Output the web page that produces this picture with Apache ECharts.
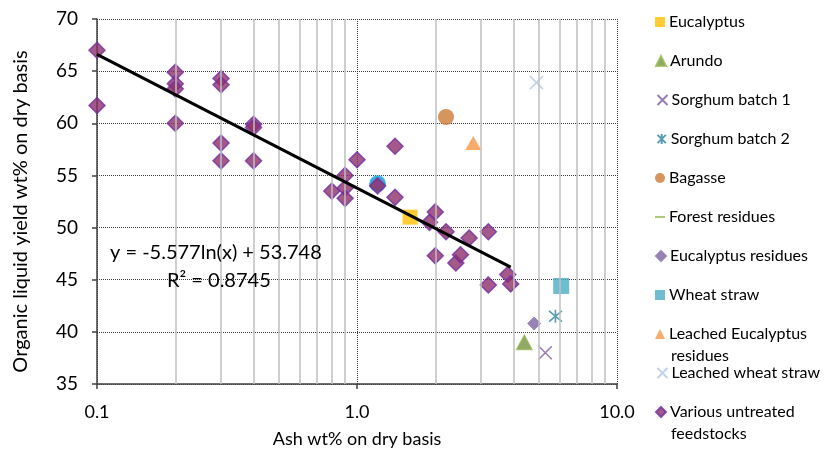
<!DOCTYPE html>
<html>
<head>
<meta charset="utf-8">
<script src="https://cdn.jsdelivr.net/npm/echarts@6/dist/echarts.min.js"></script>
<style>html,body{margin:0;padding:0;background:#fff}#c{width:830px;height:455px}</style>
</head>
<body>
<div id="c"></div>
<script>
// ---- data ----
const eucalyptus = [[1.6, 51.0]];
const arundo = [[4.4, 39.0]];
const sorghum1 = [[5.3, 38.0]];
const sorghum2 = [[5.8, 41.5]];
const bagasse = [[2.2, 60.6]];
const forestResidues = [[1.2, 54.2]];
const eucalyptusResidues = [[4.8, 40.8]];
const wheatStraw = [[6.1, 44.4]];
const leachedEucalyptus = [[2.8, 58.1]];
const leachedWheat = [[4.9, 63.9]];
const various = [
  [0.1, 67.0], [0.1, 61.7],
  [0.2, 64.9], [0.2, 63.8], [0.2, 63.3], [0.2, 60.0],
  [0.3, 64.3], [0.3, 63.7], [0.3, 58.1], [0.3, 56.4],
  [0.4, 59.9], [0.4, 59.6], [0.4, 56.4],
  [0.8, 53.5], [0.9, 55.0], [0.9, 53.8], [0.9, 52.8],
  [1.0, 56.5], [1.2, 54.0], [1.4, 57.8], [1.4, 52.9],
  [1.9, 50.5], [2.0, 51.5], [2.0, 47.3], [2.2, 49.6],
  [2.4, 46.6], [2.5, 47.4], [2.7, 49.0], [3.2, 49.6],
  [3.2, 44.5], [3.8, 45.5], [3.9, 44.6]
];
const trendline = [[0.1, 66.6], [3.9, 46.2]];
const minorGridX = [0.2, 0.3, 0.4, 0.5, 0.6, 0.7, 0.8, 0.9, 2, 3, 4, 5, 6, 7, 8, 9];
const legendNames = ['Eucalyptus', 'Arundo', 'Sorghum batch 1', 'Sorghum batch 2', 'Bagasse',
  'Forest residues', 'Eucalyptus residues', 'Wheat straw', 'Leached Eucalyptus residues',
  'Leached wheat straw', 'Various untreated feedstocks'];
// legend labels wrapped onto two lines as in the original
const legendFirstLine = {
  'Leached Eucalyptus residues': 'Leached Eucalyptus',
  'Various untreated feedstocks': 'Various untreated'
};
const legendSecondLine = {
  'Leached Eucalyptus residues': 'residues',
  'Various untreated feedstocks': 'feedstocks'
};
const equationText = 'y = -5.577ln(x) + 53.748';
const r2Text = 'R² = 0.8745';

const FONT = 'Lato, Carlito, "Liberation Sans", sans-serif';
const XPATH = 'path://M0,0L10,10M10,0L0,10';
const ASTPATH = 'path://M0,0L10,10M10,0L0,10M5,-1L5,11';

const chart = echarts.init(document.getElementById('c'), null, {renderer: 'canvas'});

const series = [
  {
    name: '_grid', type: 'line', data: [], silent: true,
    markLine: {
      symbol: 'none', silent: true, label: {show: false},
      lineStyle: {color: '#BFBFBF', width: 1.5, type: 'solid'},
      data: minorGridX.map(v => ({xAxis: v}))
    }
  },
  {name: 'Forest residues', type: 'scatter', symbol: 'circle', symbolSize: 15,
   data: forestResidues.map(p => ({value: p, itemStyle: {color: '#3E7CC0', borderColor: '#17B3E8', borderWidth: 2}})),
   itemStyle: {color: '#9BBB59'}},
  {name: 'Eucalyptus', type: 'scatter', data: eucalyptus, symbol: 'rect', symbolSize: 15,
   itemStyle: {color: '#FFC000'}},
  {name: 'Arundo', type: 'scatter', data: arundo, symbol: 'triangle', symbolSize: [16, 15],
   itemStyle: {color: '#77933C', borderColor: '#9BBB59', borderWidth: 1}},
  {name: 'Sorghum batch 1', type: 'scatter', data: sorghum1, symbol: XPATH, symbolSize: 13,
   itemStyle: {color: 'none', borderColor: '#7E5C9C', borderWidth: 1.6}},
  {name: 'Sorghum batch 2', type: 'scatter', data: sorghum2, symbol: ASTPATH, symbolSize: 13,
   itemStyle: {color: 'none', borderColor: '#31859C', borderWidth: 1.6}},
  {name: 'Bagasse', type: 'scatter', data: bagasse, symbol: 'circle', symbolSize: 16,
   itemStyle: {color: '#CC7A35'}},
  {name: 'Eucalyptus residues', type: 'scatter', data: eucalyptusResidues, symbol: 'diamond', symbolSize: 13,
   itemStyle: {color: '#8064A2', borderColor: '#8F77B0', borderWidth: 1}},
  {name: 'Wheat straw', type: 'scatter', data: wheatStraw, symbol: 'rect', symbolSize: 16,
   itemStyle: {color: '#4BACC6'}},
  {name: 'Leached Eucalyptus residues', type: 'scatter', data: leachedEucalyptus, symbol: 'triangle', symbolSize: [16, 14],
   itemStyle: {color: '#F79646'}},
  {name: 'Leached wheat straw', type: 'scatter', data: leachedWheat, symbol: XPATH, symbolSize: 13,
   itemStyle: {color: 'none', borderColor: '#B4C7E7', borderWidth: 1.6}},
  {name: 'Various untreated feedstocks', type: 'scatter', data: various, symbol: 'diamond', symbolSize: 16,
   itemStyle: {color: '#8E2F6C', borderColor: '#7030A0', borderWidth: 1.5}},
  {name: '_trend', type: 'line', data: trendline, symbol: 'none', silent: true,
   lineStyle: {color: '#000', width: 3}, z: 5}
];

const iconFor = {
  'Forest residues': 'path://M0,4L12,4L12,6.5L0,6.5Z',
  'Sorghum batch 1': XPATH,
  'Sorghum batch 2': ASTPATH,
  'Leached wheat straw': XPATH
};

const LEG_LEFT = 650, LEG_TOP = 9, LEG_STEP = 39;
const legends = legendNames.map((n, i) => {
  const item = {name: n};
  if (iconFor[n]) item.icon = iconFor[n];
  return {
    left: LEG_LEFT, top: LEG_TOP + i * LEG_STEP,
    orient: 'vertical', selectedMode: false,
    itemWidth: 10, itemHeight: 10, itemGap: 0,
    data: [item],
    formatter: nm => legendFirstLine[nm] || nm,
    textStyle: {fontFamily: FONT, fontSize: 16, color: '#000', padding: [0, 0, 0, -1]}
  };
});

const secondLines = legendNames
  .map((n, i) => legendSecondLine[n] ? {type: 'text', x: LEG_LEFT + 21, y: LEG_TOP + i * LEG_STEP + 14 + 21, z: 100,
    style: {text: legendSecondLine[n], fontFamily: FONT, fontSize: 16, fill: '#000', verticalAlign: 'middle'}} : null)
  .filter(Boolean);

const option = {
  animation: false,
  backgroundColor: '#fff',
  grid: {left: 97, right: 213, top: 19, bottom: 71, containLabel: false},
  legend: legends,
  xAxis: {
    type: 'log', logBase: 10, min: 0.1, max: 10,
    name: 'Ash wt% on dry basis', nameLocation: 'middle', nameGap: 46,
    nameTextStyle: {fontFamily: FONT, fontSize: 18, color: '#000'},
    axisLine: {show: true, onZero: false, lineStyle: {color: '#404040', width: 1.5}},
    axisTick: {show: true, length: 5, lineStyle: {color: '#404040', width: 1.5}},
    axisLabel: {fontFamily: FONT, fontSize: 18, color: '#000', margin: 19,
      formatter: v => Number(v).toFixed(1)},
    splitLine: {show: true, lineStyle: {color: '#404040', width: 1, type: [1, 1]}},
    minorTick: {show: false}, minorSplitLine: {show: false}
  },
  yAxis: {
    type: 'value', min: 35, max: 70, interval: 5,
    name: 'Organic liquid yield wt% on dry basis', nameLocation: 'middle', nameGap: 66,
    nameTextStyle: {fontFamily: FONT, fontSize: 20, color: '#000', padding: [0, 20, 0, 0]},
    axisLine: {show: true, onZero: false, lineStyle: {color: '#404040', width: 1.5}},
    axisTick: {show: true, length: 5, lineStyle: {color: '#404040', width: 1.5}},
    axisLabel: {fontFamily: FONT, fontSize: 19, color: '#000', margin: 19},
    splitLine: {show: true, lineStyle: {color: '#404040', width: 1, type: [1, 1]}}
  },
  graphic: [
    {type: 'text', left: 110, top: 243, z: 100,
     style: {text: equationText, fontFamily: FONT, fontSize: 20, fill: '#000'}},
    {type: 'text', left: 167, top: 271, z: 100,
     style: {text: r2Text, fontFamily: FONT, fontSize: 20, fill: '#000'}}
  ].concat(secondLines),
  series: series
};
chart.setOption(option);
</script>
</body>
</html>
